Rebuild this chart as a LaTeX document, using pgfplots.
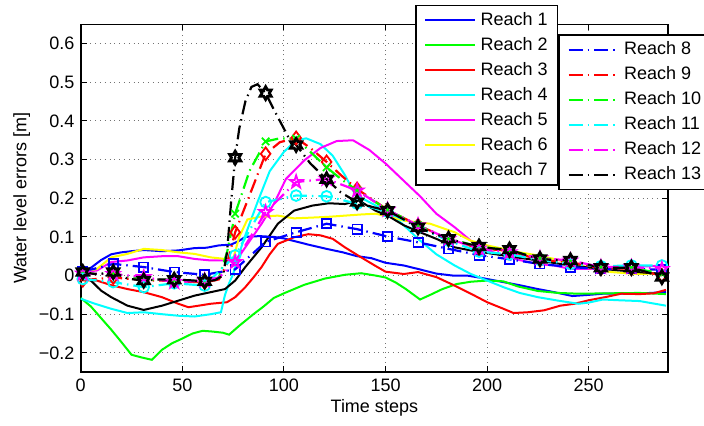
\documentclass[border=0pt]{standalone}
\usepackage{fontspec}
\setmainfont{Liberation Sans}
\usepackage{pgfplots}
\pgfplotsset{compat=1.18}

\definecolor{mblue}{rgb}{0,0,1}
\definecolor{mgreen}{rgb}{0,1,0}
\definecolor{mred}{rgb}{1,0,0}
\definecolor{mcyan}{rgb}{0,1,1}
\definecolor{mmagenta}{rgb}{1,0,1}
\definecolor{myellow}{rgb}{1,1,0}

\pgfdeclareplotmark{hexagram}{%
  \pgfpathmoveto{\pgfpointpolar{90}{\pgfplotmarksize}}%
  \pgfpathlineto{\pgfpointpolar{120}{0.577\pgfplotmarksize}}%
  \pgfpathlineto{\pgfpointpolar{150}{\pgfplotmarksize}}%
  \pgfpathlineto{\pgfpointpolar{180}{0.577\pgfplotmarksize}}%
  \pgfpathlineto{\pgfpointpolar{210}{\pgfplotmarksize}}%
  \pgfpathlineto{\pgfpointpolar{240}{0.577\pgfplotmarksize}}%
  \pgfpathlineto{\pgfpointpolar{270}{\pgfplotmarksize}}%
  \pgfpathlineto{\pgfpointpolar{300}{0.577\pgfplotmarksize}}%
  \pgfpathlineto{\pgfpointpolar{330}{\pgfplotmarksize}}%
  \pgfpathlineto{\pgfpointpolar{0}{0.577\pgfplotmarksize}}%
  \pgfpathlineto{\pgfpointpolar{30}{\pgfplotmarksize}}%
  \pgfpathlineto{\pgfpointpolar{60}{0.577\pgfplotmarksize}}%
  \pgfpathclose
  \pgfusepathqstroke}
\pgfdeclareplotmark{pentagram}{%
  \pgfpathmoveto{\pgfpointpolar{90}{\pgfplotmarksize}}%
  \pgfpathlineto{\pgfpointpolar{126}{0.382\pgfplotmarksize}}%
  \pgfpathlineto{\pgfpointpolar{162}{\pgfplotmarksize}}%
  \pgfpathlineto{\pgfpointpolar{198}{0.382\pgfplotmarksize}}%
  \pgfpathlineto{\pgfpointpolar{234}{\pgfplotmarksize}}%
  \pgfpathlineto{\pgfpointpolar{270}{0.382\pgfplotmarksize}}%
  \pgfpathlineto{\pgfpointpolar{306}{\pgfplotmarksize}}%
  \pgfpathlineto{\pgfpointpolar{342}{0.382\pgfplotmarksize}}%
  \pgfpathlineto{\pgfpointpolar{18}{\pgfplotmarksize}}%
  \pgfpathlineto{\pgfpointpolar{54}{0.382\pgfplotmarksize}}%
  \pgfpathclose
  \pgfusepathqstroke}

\pgfplotsset{
  base/.style={
    scale only axis, width=293.5pt, height=173.85pt,
    xmin=0, xmax=289, ymin=-0.25, ymax=0.65,
    legend image code/.code={\draw[##1] (0pt,0pt) -- (25pt,0pt);},
    legend cell align=left,
  },
  leg/.style={
    draw=black, line width=0.7pt, fill=white,
    inner xsep=4.2pt, inner ysep=2.4pt, row sep=2.6pt, column sep=1.4pt,
    font=\fontsize{9}{11}\selectfont,
    nodes={inner sep=0.8pt, text height=6.5pt, text depth=1.8pt},
  },
  sl/.style={line width=1pt},
  dl/.style={line width=1.1pt, dash pattern=on 7pt off 2.5pt on 0.75pt off 2.5pt},
  mk/.style={only marks, forget plot, mark options={solid, line width=0.9pt}},
}

\begin{document}
\fontsize{9}{11}\selectfont
\begin{tikzpicture}
\begin{axis}[base,
  xtick={0,50,100,150,200,250}, xticklabels={0,50,100,150,200,250},
  ytick={-0.2,-0.1,0,0.1,0.2,0.3,0.4,0.5,0.6},
  yticklabels={−0.2,−0.1,0,0.1,0.2,0.3,0.4,0.5,0.6},
  grid=major, grid style={dotted, black!55, line width=0.5pt},
  tick align=inside, major tick length=3pt, tick style={black, line width=0.5pt},
  axis line style={line width=0.8pt},
  xlabel={Time steps}, ylabel={Water level errors [m]},
  every axis x label/.style={at={(axis description cs:0.5,-0.1034)},anchor=center},
  every axis y label/.style={at={(axis description cs:-0.1005,0.5)},rotate=90,anchor=center},
  legend style={leg, at={(axis description cs:0.5695,1.0555)}, anchor=north west},
]
% Reach 1
\addplot[mblue, sl] coordinates {(0,0.01) (5,0.02) (10,0.04) (15,0.055) (20,0.06) (25,0.063) (31,0.066) (40,0.063) (48,0.065) (56,0.071) (62,0.072) (68,0.078) (74,0.08) (78,0.09) (81,0.1) (88,0.102) (95,0.1) (100,0.096) (106,0.088) (112,0.08) (121,0.069) (129,0.06) (136,0.05) (143,0.045) (150,0.033) (159,0.026) (166,0.017) (175,0.005) (183,0.0) (190,0.0) (197,-0.006) (208,-0.017) (216,-0.025) (224,-0.034) (233,-0.043) (242,-0.053) (250,-0.05) (257,-0.047) (265,-0.047) (274,-0.046) (281,-0.045) (288,-0.042)};
\addlegendentry{Reach 1}
% Reach 2
\addplot[mgreen, sl] coordinates {(0,-0.058) (5,-0.08) (10,-0.11) (15,-0.14) (20,-0.172) (25,-0.205) (30,-0.212) (35,-0.218) (40,-0.192) (45,-0.175) (50,-0.163) (55,-0.15) (60,-0.143) (65,-0.145) (70,-0.148) (73,-0.153) (78,-0.13) (85,-0.1) (90,-0.08) (95,-0.058) (100,-0.046) (110,-0.024) (120,-0.008) (130,0.002) (138,0.006) (145,0.0) (150,-0.005) (155,-0.018) (160,-0.035) (167,-0.062) (172,-0.05) (178,-0.035) (185,-0.022) (192,-0.016) (200,-0.013) (208,-0.015) (215,-0.028) (225,-0.04) (235,-0.045) (245,-0.047) (260,-0.046) (275,-0.045) (288,-0.048)};
\addlegendentry{Reach 2}
% Reach 3
\addplot[mred, sl] coordinates {(0,-0.012) (8,-0.013) (15,-0.025) (23,-0.035) (31,-0.043) (40,-0.056) (48,-0.073) (53,-0.082) (58,-0.078) (64,-0.073) (72,-0.069) (76,-0.056) (81,-0.03) (85,-0.005) (89,0.022) (93,0.055) (97,0.082) (105,0.099) (112,0.107) (118,0.104) (124,0.095) (130,0.073) (138,0.047) (145,0.025) (150,0.01) (159,0.004) (166,0.009) (175,-0.004) (184,-0.026) (192,-0.047) (200,-0.069) (208,-0.086) (213,-0.097) (220,-0.095) (228,-0.09) (236,-0.078) (243,-0.073) (250,-0.064) (258,-0.056) (266,-0.047) (275,-0.048) (282,-0.046) (288,-0.037)};
\addlegendentry{Reach 3}
% Reach 4
\addplot[mcyan, sl] coordinates {(0,-0.06) (7,-0.073) (15,-0.086) (23,-0.097) (31,-0.095) (40,-0.1) (48,-0.104) (56,-0.106) (64,-0.1) (69,-0.095) (71,-0.05) (73,-0.02) (75,0.004) (80,0.09) (87,0.19) (93,0.27) (100,0.32) (106,0.35) (111,0.355) (118,0.34) (124,0.31) (130,0.26) (135,0.21) (142,0.19) (151,0.165) (158,0.135) (166,0.095) (175,0.055) (184,0.026) (192,0.004) (200,-0.013) (208,-0.03) (216,-0.045) (225,-0.056) (235,-0.065) (245,-0.073) (250,-0.07) (257,-0.062) (265,-0.064) (275,-0.066) (288,-0.078)};
\addlegendentry{Reach 4}
% Reach 5
\addplot[mmagenta, sl] coordinates {(0,0.009) (8,0.013) (15,0.035) (23,0.039) (31,0.047) (40,0.05) (48,0.05) (56,0.043) (64,0.039) (71,0.039) (76,0.035) (81,0.073) (89,0.134) (95,0.185) (101,0.25) (110,0.298) (118,0.33) (126,0.348) (134,0.35) (142,0.325) (150,0.29) (159,0.245) (167,0.205) (175,0.16) (184,0.125) (192,0.09) (200,0.065) (208,0.052) (216,0.04) (225,0.03) (233,0.026) (241,0.017) (257,0.017) (266,0.022) (275,0.023) (288,0.026)};
\addlegendentry{Reach 5}
% Reach 6
\addplot[myellow, sl] coordinates {(0,0.009) (8,0.017) (15,0.047) (23,0.056) (31,0.069) (40,0.066) (48,0.06) (56,0.056) (64,0.047) (71,0.043) (75,0.043) (78,0.1) (82,0.145) (88,0.152) (97,0.155) (105,0.148) (114,0.15) (122,0.152) (130,0.155) (138,0.158) (145,0.16) (152,0.152) (159,0.142) (172,0.134) (184,0.112) (192,0.09) (200,0.078) (208,0.069) (216,0.06) (225,0.052) (233,0.043) (241,0.032) (249,0.022) (261,0.009) (274,0.004) (288,0.006)};
\addlegendentry{Reach 6}
% Reach 7
\addplot[black, sl] coordinates {(0,0.004) (5,-0.013) (10,-0.039) (15,-0.056) (23,-0.078) (31,-0.089) (40,-0.078) (48,-0.065) (56,-0.052) (64,-0.043) (71,-0.035) (76,-0.013) (81,0.022) (89,0.073) (97,0.134) (105,0.168) (114,0.181) (122,0.187) (130,0.185) (137,0.194) (145,0.168) (151,0.155) (159,0.13) (167,0.112) (175,0.095) (184,0.073) (192,0.065) (208,0.052) (225,0.039) (241,0.026) (257,0.017) (274,0.009) (288,0.003)};
\addlegendentry{Reach 7}
\end{axis}

\begin{axis}[base, hide axis,
  legend style={leg, at={(axis description cs:0.8135,0.9713)}, anchor=north west},
]
% Reach 8
\addplot[mblue, dl] coordinates {(1,0.01) (16,0.03) (31,0.022) (46,0.009) (61,0.002) (76,0.016) (91,0.087) (106,0.112) (121,0.134) (136,0.12) (151,0.101) (166,0.086) (181,0.069) (196,0.053) (211,0.042) (226,0.03) (241,0.022) (256,0.017) (271,0.017) (286,0.015)};
\addlegendentry{Reach 8}
\addplot[mblue, mk, mark=square, mark size=2.3pt] coordinates {(1,0.01) (16,0.03) (31,0.022) (46,0.009) (61,0.002) (76,0.016) (91,0.087) (106,0.112) (121,0.134) (136,0.12) (151,0.101) (166,0.086) (181,0.069) (196,0.053) (211,0.042) (226,0.03) (241,0.022) (256,0.017) (271,0.017) (286,0.015)};
% Reach 9
\addplot[mred, dl] coordinates {(1,-0.012) (16,-0.005) (31,-0.012) (46,-0.014) (61,-0.018) (68,-0.01) (72,0.03) (76,0.112) (84,0.22) (91,0.315) (98,0.345) (106,0.356) (113,0.33) (121,0.294) (128,0.26) (136,0.224) (151,0.17) (166,0.13) (181,0.095) (196,0.07) (211,0.064) (226,0.04) (241,0.035) (256,0.018) (271,0.018) (286,0.0)};
\addlegendentry{Reach 9}
\addplot[mred, mk, mark=diamond, mark size=3.2pt] coordinates {(1,-0.012) (16,-0.005) (31,-0.012) (46,-0.014) (61,-0.018) (76,0.112) (91,0.315) (106,0.356) (121,0.294) (136,0.224) (151,0.17) (166,0.13) (181,0.095) (196,0.07) (211,0.064) (226,0.04) (241,0.035) (256,0.018) (271,0.018) (286,0.0)};
% Reach 10
\addplot[mgreen, dl] coordinates {(1,0.005) (16,0.005) (31,-0.01) (46,-0.012) (61,-0.015) (68,-0.005) (72,0.06) (76,0.16) (83,0.27) (91,0.347) (98,0.355) (106,0.354) (113,0.32) (121,0.28) (128,0.25) (136,0.22) (151,0.17) (166,0.13) (181,0.095) (196,0.075) (211,0.065) (226,0.045) (241,0.038) (256,0.022) (271,0.02) (286,0.005)};
\addlegendentry{Reach 10}
\addplot[mgreen, mk, mark=x, mark size=2.6pt] coordinates {(1,0.005) (16,0.005) (31,-0.01) (46,-0.012) (61,-0.015) (76,0.16) (91,0.347) (106,0.354) (121,0.28) (136,0.22) (151,0.17) (166,0.13) (181,0.095) (196,0.075) (211,0.065) (226,0.045) (241,0.038) (256,0.022) (271,0.02) (286,0.005)};
% Reach 11
\addplot[mcyan, dl] coordinates {(1,-0.009) (16,-0.017) (31,-0.03) (46,-0.02) (61,-0.026) (76,0.052) (91,0.19) (106,0.207) (121,0.205) (136,0.186) (151,0.165) (166,0.125) (181,0.09) (196,0.062) (211,0.055) (226,0.04) (241,0.03) (256,0.024) (271,0.026) (286,0.026)};
\addlegendentry{Reach 11}
\addplot[mcyan, mk, mark=o, mark size=2.7pt] coordinates {(1,-0.009) (16,-0.017) (31,-0.03) (46,-0.02) (61,-0.026) (76,0.052) (91,0.19) (106,0.207) (121,0.205) (136,0.186) (151,0.165) (166,0.125) (181,0.09) (196,0.062) (211,0.055) (226,0.04) (241,0.03) (256,0.024) (271,0.026) (286,0.026)};
% Reach 12
\addplot[mmagenta, dl] coordinates {(1,0.005) (16,0.004) (31,-0.004) (46,-0.017) (61,-0.013) (68,-0.005) (76,0.035) (91,0.164) (106,0.242) (121,0.25) (136,0.22) (151,0.17) (166,0.13) (181,0.095) (196,0.07) (211,0.06) (226,0.045) (241,0.039) (256,0.022) (271,0.022) (286,0.017)};
\addlegendentry{Reach 12}
\addplot[mmagenta, mk, mark=pentagram, mark size=3.3pt] coordinates {(1,0.005) (16,0.004) (31,-0.004) (46,-0.017) (61,-0.013) (76,0.035) (91,0.164) (106,0.242) (121,0.25) (136,0.22) (151,0.17) (166,0.13) (181,0.095) (196,0.07) (211,0.06) (226,0.045) (241,0.039) (256,0.022) (271,0.022) (286,0.017)};
% Reach 13
\addplot[black, dl] coordinates {(1,0.009) (8,0.003) (16,0.009) (23,-0.008) (31,-0.013) (38,-0.01) (46,-0.011) (53,-0.012) (61,-0.015) (66,-0.012) (70,0.0) (72,0.06) (74,0.19) (76,0.305) (78,0.38) (81,0.45) (84,0.488) (87,0.495) (91,0.472) (95,0.43) (99,0.39) (102,0.36) (106,0.338) (113,0.29) (121,0.249) (128,0.215) (136,0.19) (143,0.178) (151,0.168) (158,0.148) (166,0.125) (173,0.11) (181,0.095) (188,0.085) (196,0.075) (203,0.07) (211,0.067) (218,0.055) (226,0.043) (233,0.04) (241,0.039) (248,0.03) (256,0.02) (263,0.02) (271,0.02) (278,0.01) (286,-0.004)};
\addlegendentry{Reach 13}
\addplot[black, mk, mark=hexagram, mark size=3.2pt, mark options={line width=1.4pt}] coordinates {(1,0.009) (16,0.009) (31,-0.013) (46,-0.011) (61,-0.015) (76,0.305) (91,0.472) (106,0.338) (121,0.249) (136,0.19) (151,0.168) (166,0.125) (181,0.095) (196,0.075) (211,0.067) (226,0.043) (241,0.039) (256,0.02) (271,0.02) (286,-0.004)};
\end{axis}
\pgfresetboundingbox
\path[use as bounding box] (-40.35pt,-26.5pt) rectangle (311.5pt,186pt);
\end{tikzpicture}
\end{document}
